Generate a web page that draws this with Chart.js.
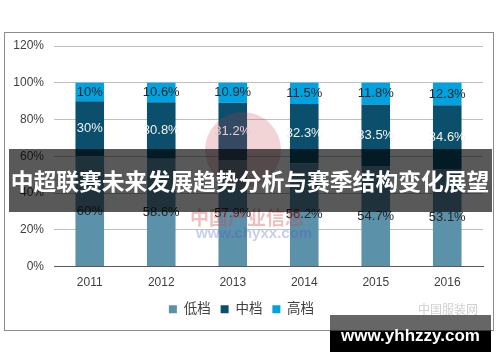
<!DOCTYPE html>
<html>
<head>
<meta charset="utf-8">
<script src="https://cdn.jsdelivr.net/npm/chart.js@4.4.1/dist/chart.umd.min.js"></script>
<style>
  html, body { margin: 0; padding: 0; background: #fff; }
  #wrap { position: relative; width: 500px; height: 362px; overflow: hidden; font-family: 'Liberation Sans', 'Noto Sans CJK SC', sans-serif; }
  #frame { position: absolute; left: 4px; top: 32px; width: 488px; height: 297px; border: 1px solid #8c8c8c; box-sizing: content-box; pointer-events: none; }
  canvas { position: absolute; left: 0; top: 0; }
  .mark { position: absolute; white-space: nowrap; }
  #circle { position: absolute; left: 205px; top: 112px; width: 76px; height: 76px; border-radius: 50%; background: rgba(200, 60, 70, 0.22); }
  #wm1 { left: 190px; top: 203px; font-size: 19px; font-weight: bold; color: rgba(210, 70, 70, 0.35); font-family: 'Noto Sans CJK SC', sans-serif; }
  #wm2 { left: 196px; top: 224px; font-size: 15px; font-weight: bold; color: rgba(70, 90, 200, 0.3); }
  #logo { left: 418px; top: 300px; font-size: 12px; color: #d0d0d0; font-family: 'Noto Sans CJK SC', sans-serif; }
  #band { position: absolute; left: 9px; top: 149px; width: 483px; height: 63px; background: rgba(0, 0, 0, 0.65); }
  #titulo { position: absolute; left: 0; top: 149px; width: 500px; height: 63px; color: #fff; font-size: 22.8px; font-weight: bold; line-height: 63px; text-align: center; white-space: nowrap; font-family: 'Noto Sans CJK SC', sans-serif; }
  #site { position: absolute; left: 330px; top: 315px; width: 161px; height: 37px; background: linear-gradient(to bottom, rgba(0,0,0,0.6) 0, rgba(0,0,0,0.6) 16px, #000 16px); color: #fff; font-size: 17px; font-weight: bold; line-height: 42px; text-align: center; }
</style>
</head>
<body>
<div id="wrap">
  <canvas id="grafico" width="500" height="362"></canvas>
  <div id="frame"></div>
  <div id="circle"></div>
  <div class="mark" id="wm1">中国产业信息</div>
  <div class="mark" id="wm2">www.chyxx.com</div>
  <div class="mark" id="logo">中国服装网</div>
  <div id="band"></div>
  <div id="titulo">中超联赛未来发展趋势分析与赛季结构变化展望</div>
  <div id="site">www.yhhzzy.com</div>
</div>
<script>
// datos
const anios = ['2011', '2012', '2013', '2014', '2015', '2016'];
const bajo = [60, 58.6, 57.9, 56.2, 54.7, 53.1];
const medio = [30, 30.8, 31.2, 32.3, 33.5, 34.6];
const alto = [10, 10.6, 10.9, 11.5, 11.8, 12.3];
const nombres = ['低档', '中档', '高档'];

const colores = ['#5b91a9', '#0b4f6c', '#00a3e0'];
const coloresTexto = ['#262626', '#f2f2f2', '#262626'];

// etiquetas de valor centradas en cada segmento
const etiquetas = {
    id: 'etiquetas',
    afterDatasetsDraw(chart) {
        const ctx = chart.ctx;
        ctx.save();
        ctx.font = "13px 'Liberation Sans', sans-serif";
        ctx.textAlign = 'center';
        ctx.textBaseline = 'middle';
        chart.data.datasets.forEach((ds, i) => {
            const meta = chart.getDatasetMeta(i);
            meta.data.forEach((bar, j) => {
                const y = (bar.y + bar.base) / 2;
                ctx.fillStyle = coloresTexto[i];
                ctx.fillText(ds.data[j] + '%', bar.x, y);
            });
        });
        ctx.restore();
    }
};

Chart.defaults.font.family = "'Liberation Sans', 'Noto Sans CJK SC', sans-serif";
Chart.defaults.color = '#404040';

new Chart(document.getElementById('grafico').getContext('2d'), {
    type: 'bar',
    data: {
        labels: anios,
        datasets: [
            { label: nombres[0], data: bajo, backgroundColor: colores[0] },
            { label: nombres[1], data: medio, backgroundColor: colores[1] },
            { label: nombres[2], data: alto, backgroundColor: colores[2] }
        ]
    },
    options: {
        responsive: false,
        animation: false,
        devicePixelRatio: 1,
        datasets: { bar: { barPercentage: 0.8, categoryPercentage: 0.5 } },
        layout: { padding: { top: 46, right: 17, bottom: 36, left: 0 } },
        plugins: {
            legend: {
                position: 'bottom',
                labels: { boxWidth: 8, boxHeight: 8, padding: 10, font: { size: 13.5 }, color: '#404040' }
            },
            tooltip: { enabled: false }
        },
        scales: {
            x: {
                stacked: true,
                grid: { display: false },
                border: { color: '#595959' },
                ticks: { font: { size: 12 }, padding: 1 },
                afterFit(s) { s.height = 26; }
            },
            y: {
                stacked: true,
                min: 0,
                max: 120,
                grid: { color: '#bfbfbf', drawTicks: false },
                border: { display: false },
                ticks: { stepSize: 20, padding: 10, font: { size: 12 }, callback: v => v + '%' },
                afterFit(s) { s.width = 54; }
            }
        }
    },
    plugins: [etiquetas]
});
</script>
</body>
</html>
